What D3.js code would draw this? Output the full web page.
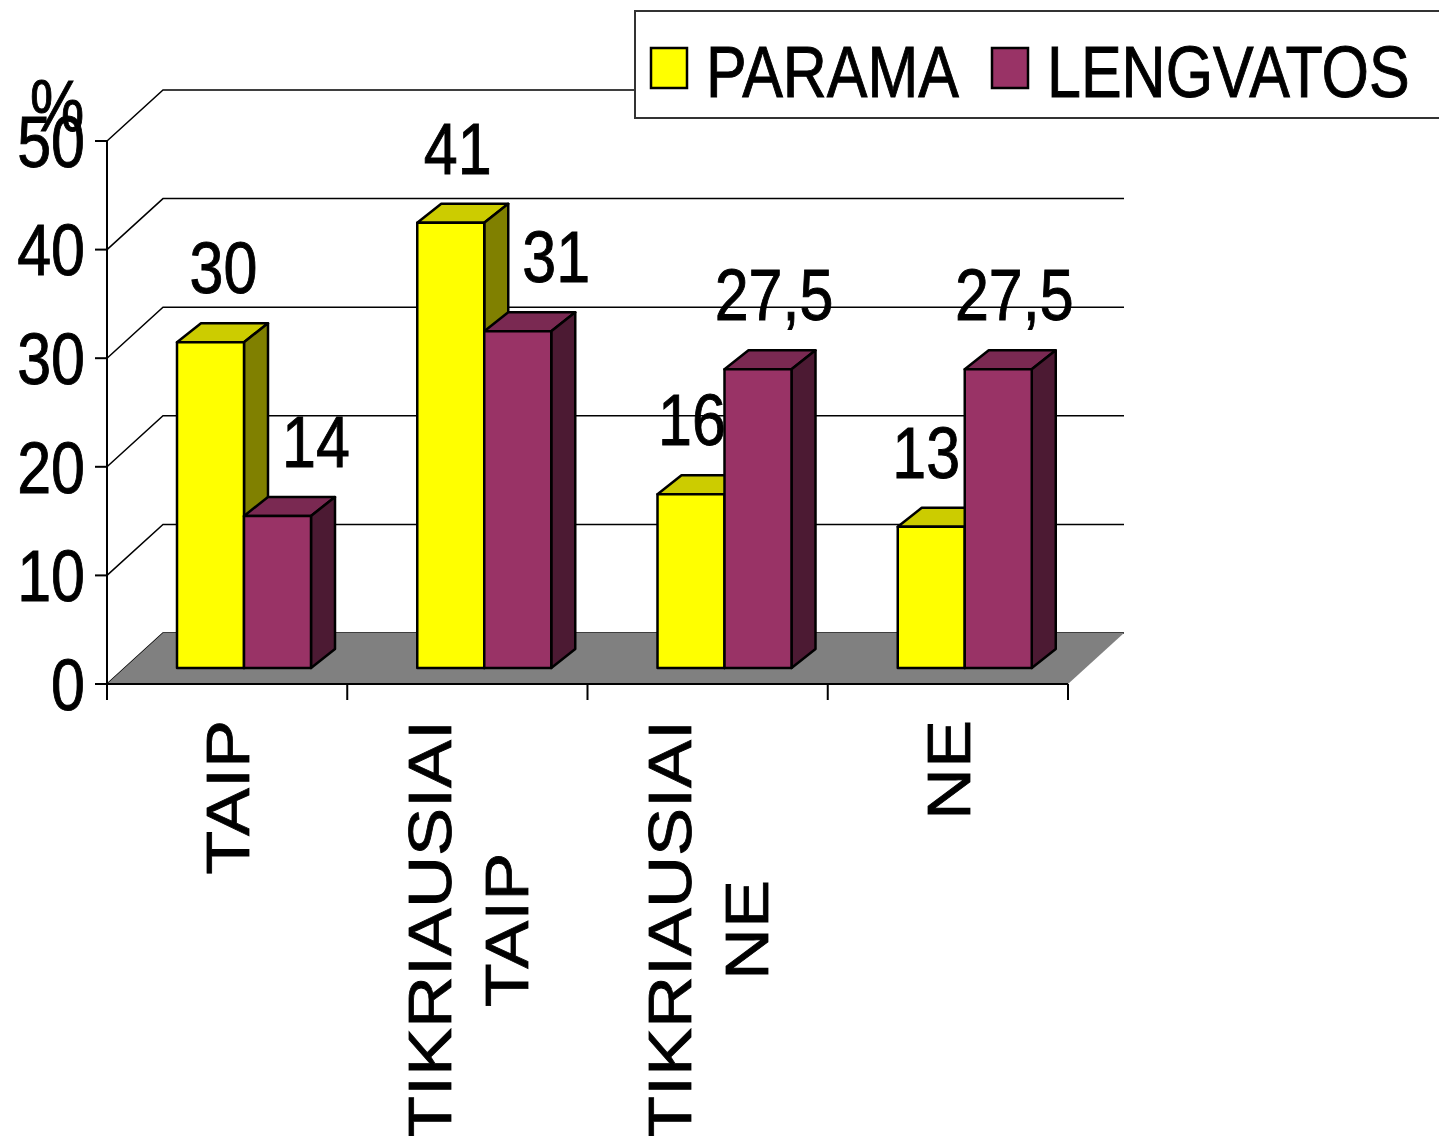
<!DOCTYPE html>
<html>
<head>
<meta charset="utf-8">
<script src="https://cdn.jsdelivr.net/npm/d3@7"></script>
<style>
    body { margin: 0; background: #fff; }
    svg { display: block; }
    text { font-family: "Liberation Sans", Arial, sans-serif; fill: #000; stroke: #000; stroke-width: 0.8px; }
</style>
</head>
<body>
<svg id="chart" width="1439" height="1136"></svg>
<script>
var categories = ["TAIP", "TIKRIAUSIAI TAIP", "TIKRIAUSIAI NE", "NE"];
var seriesNames = ["PARAMA", "LENGVATOS"];
var parama = [30, 41, 16, 13];
var lengvatos = [14, 31, 27.5, 27.5];
var yTicks = [0, 10, 20, 30, 40, 50];
var yUnit = "%";

var chart = (function () {

    var svg = d3.select("#chart");
    var fs = 61, stretch = 1.18;         // the picture is stretched vertically
    var wall = { dx: 56, dy: -51 };      // depth of the walls
    var barOff = { dx: 17, dy: -16 };    // bars sit a bit back from the front
    var barDepth = { dx: 24, dy: -19 };

    var colors = {
        PARAMA: { front: "#ffff00", top: "#cccc00", side: "#808000" },
        LENGVATOS: { front: "#993366", top: "#7a2952", side: "#4c1a33" }
    };

    var x = d3.scaleBand().domain(categories).range([107, 1068]);
    var inner = d3.scaleBand().domain(seriesNames).range([53, 187]);
    var y = d3.scaleLinear().domain([0, 50]).range([684, 141]);

    function draw() {
        var x0 = x.range()[0], x1 = x.range()[1];

        //背景网格
        var grid = svg.append("g").attr("stroke", "#000").attr("stroke-width", 1.5).attr("fill", "none");
        yTicks.forEach(function (t) {
            grid.append("polyline")
                .attr("points", [[x0, y(t)], [x0 + wall.dx, y(t) + wall.dy], [x1 + wall.dx, y(t) + wall.dy]].join(" "));
        });

        //地板
        svg.append("polygon")
            .attr("points", [[x0, y(0)], [x0 + wall.dx, y(0) + wall.dy], [x1 + wall.dx, y(0) + wall.dy], [x1, y(0)]].join(" "))
            .attr("fill", "#808080");

        //坐标轴
        var ax = svg.append("g").attr("stroke", "#000").attr("stroke-width", 2);
        ax.append("line").attr("x1", x0).attr("x2", x0).attr("y1", y(0)).attr("y2", y(50));
        ax.append("line").attr("x1", x0).attr("x2", x1).attr("y1", y(0)).attr("y2", y(0));
        yTicks.forEach(function (t) {
            ax.append("line").attr("x1", x0 - 12).attr("x2", x0).attr("y1", y(t)).attr("y2", y(t));
        });
        var bounds = categories.map(function (c) { return x(c); }).concat([x1]);
        bounds.forEach(function (b) {
            ax.append("line").attr("x1", b).attr("x2", b).attr("y1", y(0)).attr("y2", y(0) + 16);
        });

        svg.selectAll(".ylab").data(yTicks).enter().append("text")
            .attr("class", "ylab")
            .attr("text-anchor", "end")
            .attr("font-size", fs)
            .attr("transform", function (d) { return "translate(85," + (y(d) + 0.716 * fs * stretch / 2) + ") scale(1," + stretch + ")"; })
            .text(function (d) { return d; });
        svg.append("text")
            .attr("font-size", fs)
            .attr("transform", "translate(30,131) scale(1," + stretch + ")")
            .text(yUnit);

        //柱子
        var series = [parama, lengvatos];
        var labels = [];
        categories.forEach(function (c, i) {
            var sideRight = 0;
            seriesNames.forEach(function (s, j) {
                var v = series[j][i];
                var col = colors[s];
                var bx = x(c) + inner(s) + barOff.dx;
                var w = inner.bandwidth();
                var yb = y(0) + barOff.dy;
                var yt = y(v) + barOff.dy;
                var g = svg.append("g").attr("stroke", "#000").attr("stroke-width", 2.5).attr("stroke-linejoin", "round");
                g.append("polygon")
                    .attr("points", [[bx, yt], [bx + w, yt], [bx + w + barDepth.dx, yt + barDepth.dy], [bx + barDepth.dx, yt + barDepth.dy]].join(" "))
                    .attr("fill", col.top);
                g.append("polygon")
                    .attr("points", [[bx + w, yt], [bx + w + barDepth.dx, yt + barDepth.dy], [bx + w + barDepth.dx, yb + barDepth.dy], [bx + w, yb]].join(" "))
                    .attr("fill", col.side);
                g.append("rect")
                    .attr("x", bx).attr("y", yt).attr("width", w).attr("height", yb - yt)
                    .attr("fill", col.front);
                labels.push({
                    v: v,
                    x: bx + w / 2 + (j == 0 ? 13 - 6 * i : 16),
                    y: yt + barDepth.dy - 30,
                    // the label of a lower bar moves clear of the taller bar on its left
                    clear: (j == 1 && series[0][i] > v) ? sideRight + 14 : null
                });
                if (j == 0) sideRight = bx + w + barDepth.dx;
            });
        });

        svg.selectAll(".vlab").data(labels).enter().append("text")
            .attr("class", "vlab")
            .attr("text-anchor", "middle")
            .attr("font-size", fs)
            .text(function (d) { return String(d.v).replace(".", ","); })
            .attr("transform", function (d) {
                var lx = d.x;
                if (d.clear != null) lx = d.clear + this.getComputedTextLength() / 2;
                return "translate(" + lx + "," + d.y + ") scale(1," + stretch + ")";
            });

        //类别标签 (竖排)
        var lineGap = 77;
        categories.forEach(function (c) {
            var lines = c.split(" ");
            var cx = x(c) + x.bandwidth() / 2;
            var tmp = lines.map(function (l) {
                return svg.append("text").attr("font-size", fs).attr("text-anchor", "middle").text(l);
            });
            var maxLen = d3.max(tmp, function (t) { return t.node().getComputedTextLength(); });
            var yc = 720 + maxLen * stretch / 2;
            tmp.forEach(function (t, k) {
                var bx = cx + (k - (lines.length - 1) / 2) * lineGap + 0.716 * fs / 2;
                t.attr("transform", "translate(" + bx + "," + yc + ") scale(1," + stretch + ") rotate(-90)");
            });
        });

        //图例
        var lg = svg.append("g");
        lg.append("rect")
            .attr("x", 635).attr("y", 11).attr("width", 820).attr("height", 107)
            .attr("fill", "#fff").attr("stroke", "#333").attr("stroke-width", 2);
        var lx = [651, 992];
        seriesNames.forEach(function (s, j) {
            lg.append("rect")
                .attr("x", lx[j]).attr("y", 48).attr("width", 36).attr("height", 40)
                .attr("fill", colors[s].front).attr("stroke", "#000").attr("stroke-width", 2.5);
            lg.append("text")
                .attr("font-size", fs)
                .attr("transform", "translate(" + (lx[j] + 55) + ",97) scale(1," + stretch + ")")
                .text(s);
        });
    }

    return {
        draw: draw
    }
})();

chart.draw();
</script>
</body>
</html>
